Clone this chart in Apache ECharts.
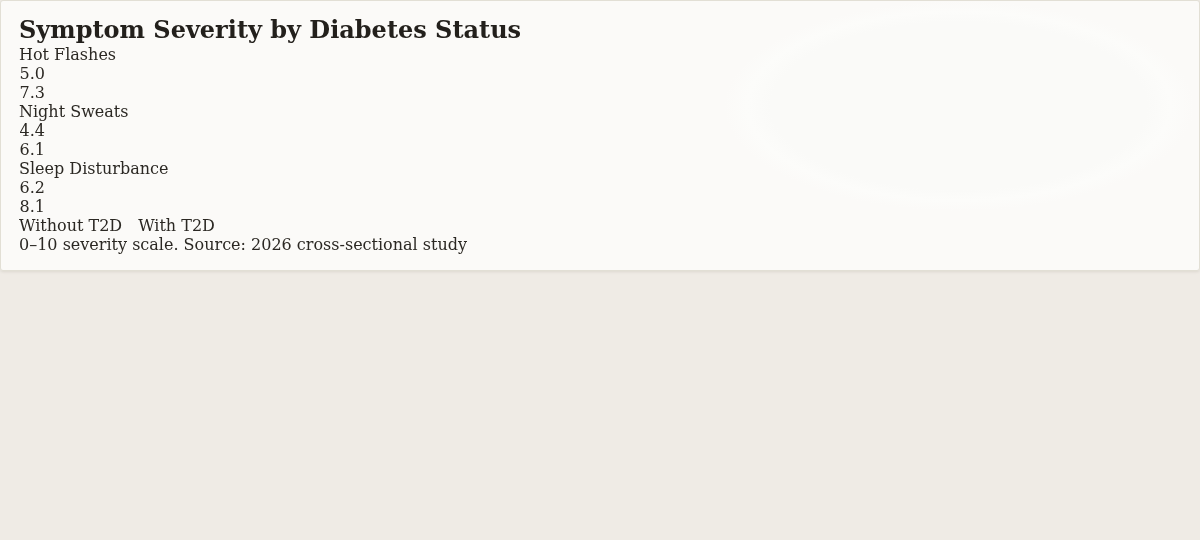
<!DOCTYPE html>
<html>
<head>
<meta charset="utf-8">
<title>Symptom Severity by Diabetes Status</title>
<script src="https://cdn.jsdelivr.net/npm/echarts@6/dist/echarts.min.js"></script>
<style>
  html, body { margin: 0; padding: 0; width: 1200px; height: 540px; overflow: hidden;
    background: #efebe5; }
  #card { position: absolute; left: 0; top: 0; width: 1198px; height: 269px;
    border: 1px solid #e2dfd5; border-radius: 3px;
    background: radial-gradient(ellipse 235px 105px at 958px 105px, #fafaf8 0%, #fafaf8 80%, #fcfcfa 90%, #fbfaf8 100%);
    box-shadow: 0 1px 3px rgba(60, 50, 30, 0.10); }
  #chart { position: absolute; left: 0; top: 0; width: 1200px; height: 540px; }
</style>
</head>
<body>
<div id="card"></div>
<div id="chart"></div>
<script>
// --- data ---
const categories = ['Hot Flashes', 'Night Sweats', 'Sleep Disturbance'];
const withoutT2D = [5.0, 4.4, 6.2];
const withT2D = [7.3, 6.1, 8.1];
const seriesNames = ['Without T2D', 'With T2D'];
const titleText = 'Symptom Severity by Diabetes Status';
const noteText = '0–10 severity scale. Source: 2026 cross-sectional study';

const FONT = '"DejaVu Serif", serif';
const INK = '#2b2823';

// each category takes three rows: its name, then one row per group
const rowKeys = [];
const rowLabels = [];
categories.forEach((c, i) => {
  rowKeys.push('c' + i, 'w' + i, 't' + i);
  rowLabels.push(c, '', '');
});

function valueRows(values, offset) {
  return values.map((v, i) => [0, i * 3 + offset, v]);
}

const chart = echarts.init(document.getElementById('chart'), null, { renderer: 'canvas' });

const labelStyle = {
  show: true, position: 'right', distance: 0, align: 'left',
  fontFamily: FONT, fontSize: 16, color: INK,
  formatter: p => p.value[2].toFixed(1)
};

chart.setOption({
  backgroundColor: 'transparent',
  animation: false,
  textStyle: { fontFamily: FONT },
  title: [
    { text: titleText, left: 19, top: 20, padding: 0,
      textStyle: { fontFamily: FONT, fontSize: 24, fontWeight: 'bold', color: '#23201c' } },
    { text: noteText, left: 19, top: 238, padding: 0,
      textStyle: { fontFamily: FONT, fontSize: 16, fontWeight: 'normal', color: INK } }
  ],
  legend: {
    data: seriesNames, icon: 'none', itemWidth: 0, itemGap: 11,
    left: 14, top: 219, padding: 0,
    textStyle: { fontFamily: FONT, fontSize: 16, color: INK }
  },
  grid: { left: 19, right: 20, top: 46.5, height: 171 },
  xAxis: { type: 'value', min: 0, max: 10, show: false },
  yAxis: {
    type: 'category', data: rowKeys, inverse: true,
    axisLine: { show: false }, axisTick: { show: false }, splitLine: { show: false },
    axisLabel: {
      inside: true, margin: 0, align: 'left', interval: 0,
      fontFamily: FONT, fontSize: 16, color: INK,
      formatter: (v, i) => rowLabels[i]
    }
  },
  series: [
    { name: seriesNames[0], type: 'scatter', symbolSize: 1,
      itemStyle: { color: 'rgba(0,0,0,0)', opacity: 1 }, label: labelStyle,
      data: valueRows(withoutT2D, 1) },
    { name: seriesNames[1], type: 'scatter', symbolSize: 1,
      itemStyle: { color: 'rgba(0,0,0,0)', opacity: 1 }, label: labelStyle,
      data: valueRows(withT2D, 2) }
  ]
});
</script>
</body>
</html>
